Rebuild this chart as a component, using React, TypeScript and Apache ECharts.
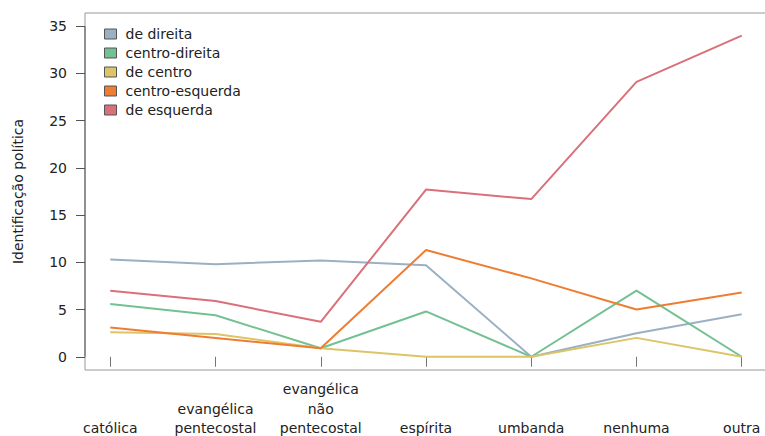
import React, { useEffect, useRef } from "react";
import * as echarts from "echarts";

const categories = [
  "católica",
  "evangélica\npentecostal",
  "evangélica\nnão\npentecostal",
  "espírita",
  "umbanda",
  "nenhuma",
  "outra",
];

const seriesNames = ["de direita", "centro-direita", "de centro", "centro-esquerda", "de esquerda"];
const deDireita = [10.3, 9.8, 10.2, 9.7, 0, 2.5, 4.5];
const centroDireita = [5.6, 4.4, 0.9, 4.8, 0, 7.0, 0];
const deCentro = [2.6, 2.4, 0.9, 0, 0, 2.0, 0];
const centroEsquerda = [3.1, 2.0, 0.9, 11.3, 8.3, 5.0, 6.8];
const deEsquerda = [7.0, 5.9, 3.7, 17.7, 16.7, 29.1, 34.0];
const seriesValues = [deDireita, centroDireita, deCentro, centroEsquerda, deEsquerda];
const colors = ["#9ab0c3", "#73c193", "#dcc467", "#ee7d32", "#d9707a"];
const yTicks = [0, 5, 10, 15, 20, 25, 30, 35];
const xTicks = [1, 2, 3, 4, 5, 6, 7];

const FONT = "DejaVu Sans";

export default function App() {
  const ref = useRef<HTMLDivElement>(null);
  useEffect(() => {
    if (!ref.current) return;
    const chart = echarts.init(ref.current, null, { renderer: "svg" });
    chart.setOption({
      animation: false,
      textStyle: { fontFamily: FONT },
      grid: {
        left: 85,
        top: 13,
        right: -2,
        bottom: 66,
        show: true,
        borderColor: "#999",
        borderWidth: 1,
        outerBoundsMode: "none",
        containLabel: false,
      },
      legend: {
        orient: "vertical",
        left: 99,
        top: 22,
        icon: "rect",
        itemWidth: 12,
        itemHeight: 10,
        itemGap: 5,
        itemStyle: { borderColor: "#555", borderWidth: 1 },
        textStyle: { fontFamily: FONT, fontSize: 14, color: "#222", lineHeight: 14, padding: [0, 0, 0, 4] },
        data: seriesNames,
      },
      xAxis: {
        type: "value",
        min: 0.76,
        max: 7.24,
        axisLine: { show: false },
        splitLine: { show: false },
        axisTick: { show: true, customValues: xTicks, length: 10, lineStyle: { color: "#777" } },
        axisLabel: {
          customValues: xTicks,
          formatter: (v: number) => categories[Math.round(v) - 1] ?? "",
          fontFamily: FONT,
          fontSize: 14,
          color: "#222",
          lineHeight: 19.5,
          verticalAlign: "bottom",
          margin: 68,
        },
      },
      yAxis: {
        type: "value",
        min: -1.4,
        max: 36.4,
        name: "Identificação política",
        nameLocation: "middle",
        nameGap: 60,
        nameTextStyle: { fontFamily: FONT, fontSize: 14, color: "#222" },
        axisLine: { show: false },
        splitLine: { show: false },
        axisTick: { show: true, customValues: yTicks, length: 9, lineStyle: { color: "#555" } },
        axisLabel: {
          customValues: yTicks,
          fontFamily: FONT,
          fontSize: 14,
          color: "#222",
          margin: 18,
        },
      },
      series: seriesNames.map((name, i) => ({
        name,
        type: "line",
        data: seriesValues[i].map((v, j) => [j + 1, v]),
        showSymbol: false,
        symbol: "none",
        color: colors[i],
        lineStyle: { width: 2, color: colors[i] },
        itemStyle: { color: colors[i] },
      })),
    });
    const p0 = chart.convertToPixel({ xAxisIndex: 0, yAxisIndex: 0 }, [0.76, yTicks[0]]) as number[];
    const p1 = chart.convertToPixel({ xAxisIndex: 0, yAxisIndex: 0 }, [0.76, yTicks[yTicks.length - 1]]) as number[];
    chart.setOption({
      graphic: [
        {
          type: "line",
          shape: { x1: p0[0], y1: p0[1], x2: p1[0], y2: p1[1] },
          style: { stroke: "#555", lineWidth: 1 },
          z: 10,
        },
      ],
    });
    return () => chart.dispose();
  }, []);
  return (
    <div
      ref={ref}
      style={{ position: "absolute", left: 0, top: 0, width: 765, height: 436 }}
    />
  );
}
